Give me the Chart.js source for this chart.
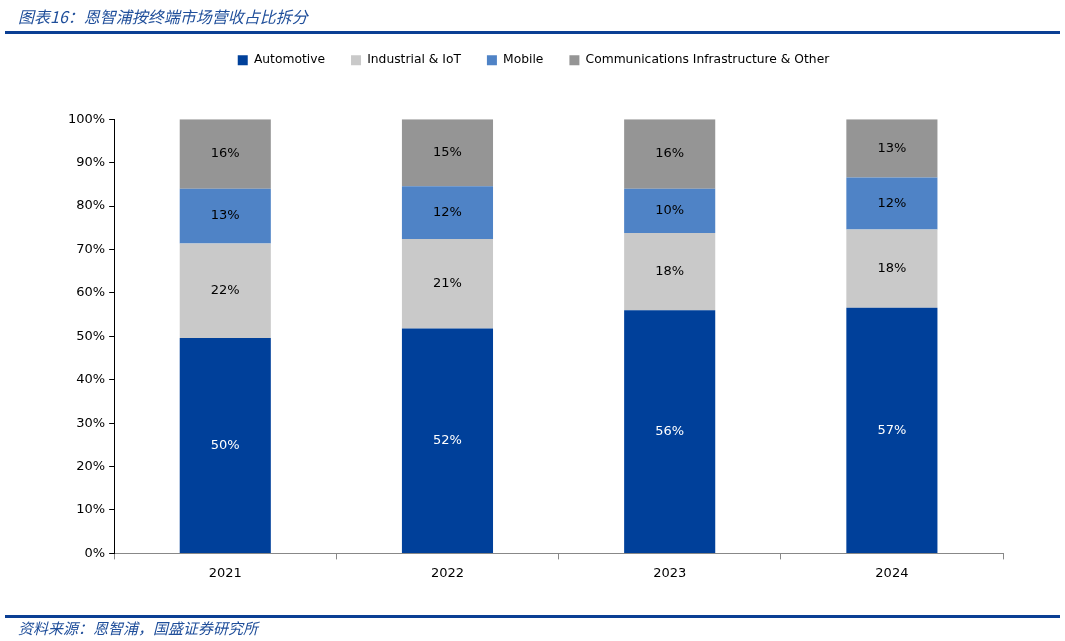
<!DOCTYPE html>
<html>
<head>
<meta charset="utf-8">
<script src="https://cdn.jsdelivr.net/npm/chart.js@4"></script>
<style>
  body { margin: 0; background: #fff; }
  #wrap { position: relative; width: 1065px; height: 641px; }
  #c { position: absolute; left: 0; top: 0; }
  .title { position: absolute; left: 18px; top: 4px; font: italic 16px "Noto Sans CJK SC"; color: #1F4E9A; }
  .rule { position: absolute; left: 5px; width: 1055px; height: 3px; background: #0B3F94; }
  .src { position: absolute; left: 18px; top: 617px; font: italic 15px "Noto Sans CJK SC"; color: #1F4E9A; }
</style>
</head>
<body>
<div id="wrap">
  <canvas id="c" width="1065" height="641"></canvas>
  <div class="title">图表16：恩智浦按终端市场营收占比拆分</div>
  <div class="rule" style="top:31px"></div>
  <div class="rule" style="top:615px"></div>
  <div class="src">资料来源：恩智浦，国盛证券研究所</div>
</div>
<script>
// ============================================================
// Data
// ============================================================

const years = ["2021", "2022", "2023", "2024"];
const automotive = [49.6, 51.8, 56.0, 56.6];
const industrialIoT = [21.8, 20.6, 17.8, 18.0];
const mobile = [12.6, 12.2, 10.2, 12.0];
const commsOther = [16.0, 15.4, 16.0, 13.4];
const yTicks = [0, 10, 20, 30, 40, 50, 60, 70, 80, 90, 100];

const FONT = "DejaVu Sans";

// ============================================================
// Plugins
// ============================================================

// draws the percentage inside each segment
const segmentLabels = {
  id: 'segmentLabels',
  afterDatasetsDraw(chart) {
    const ctx = chart.ctx;
    ctx.save();
    ctx.font = "13px " + FONT;
    ctx.textAlign = 'center';
    ctx.textBaseline = 'middle';
    chart.data.datasets.forEach((ds, i) => {
      const meta = chart.getDatasetMeta(i);
      meta.data.forEach((bar, j) => {
        const mid = (bar.y + bar.base) / 2;
        ctx.fillStyle = ds.labelColor;
        ctx.fillText(Math.round(ds.data[j]) + '%', bar.x, mid);
      });
    });
    ctx.restore();
  }
};

// extra room under the legend
const legendGap = {
  id: 'legendGap',
  beforeInit(chart) {
    const fit = chart.legend.fit;
    chart.legend.fit = function () {
      fit.bind(chart.legend)();
      this.height += 43;
    };
  }
};

// ============================================================
// Chart
// ============================================================

function init() {
  const ctx = document.getElementById('c').getContext('2d');
  new Chart(ctx, {
    type: 'bar',
    data: {
      labels: years,
      datasets: [
        { label: "Automotive", data: automotive, backgroundColor: "#00409A", labelColor: "#fff" },
        { label: "Industrial & IoT", data: industrialIoT, backgroundColor: "#C9C9C9", labelColor: "#000" },
        { label: "Mobile", data: mobile, backgroundColor: "#4F83C6", labelColor: "#000" },
        { label: "Communications Infrastructure & Other", data: commsOther, backgroundColor: "#959595", labelColor: "#000" }
      ]
    },
    options: {
      responsive: false,
      animation: false,
      layout: { padding: { left: 64, right: 62, top: 28, bottom: 54 } },
      datasets: { bar: { barPercentage: 0.41, categoryPercentage: 1 } },
      plugins: {
        legend: {
          position: 'top',
          labels: {
            boxWidth: 10, boxHeight: 10, padding: 26,
            color: "#000",
            font: { family: FONT, size: 12.3 }
          }
        },
        tooltip: { enabled: false }
      },
      scales: {
        x: {
          stacked: true,
          border: { color: "#888", width: 1 },
          grid: { offset: true, drawOnChartArea: false, tickLength: 6, color: "#888" },
          ticks: { color: "#000", font: { family: FONT, size: 13 }, padding: 6 }
        },
        y: {
          stacked: true,
          min: 0, max: 100,
          afterBuildTicks(axis) { axis.ticks = yTicks.map(v => ({ value: v })); },
          border: { color: "#000", width: 1 },
          grid: { drawOnChartArea: false, tickLength: 5, color: "#000" },
          ticks: { color: "#000", font: { family: FONT, size: 13 }, padding: 4, callback: v => v + '%' }
        }
      }
    },
    plugins: [segmentLabels, legendGap]
  });
}

document.addEventListener('DOMContentLoaded', init);
</script>
</body>
</html>
